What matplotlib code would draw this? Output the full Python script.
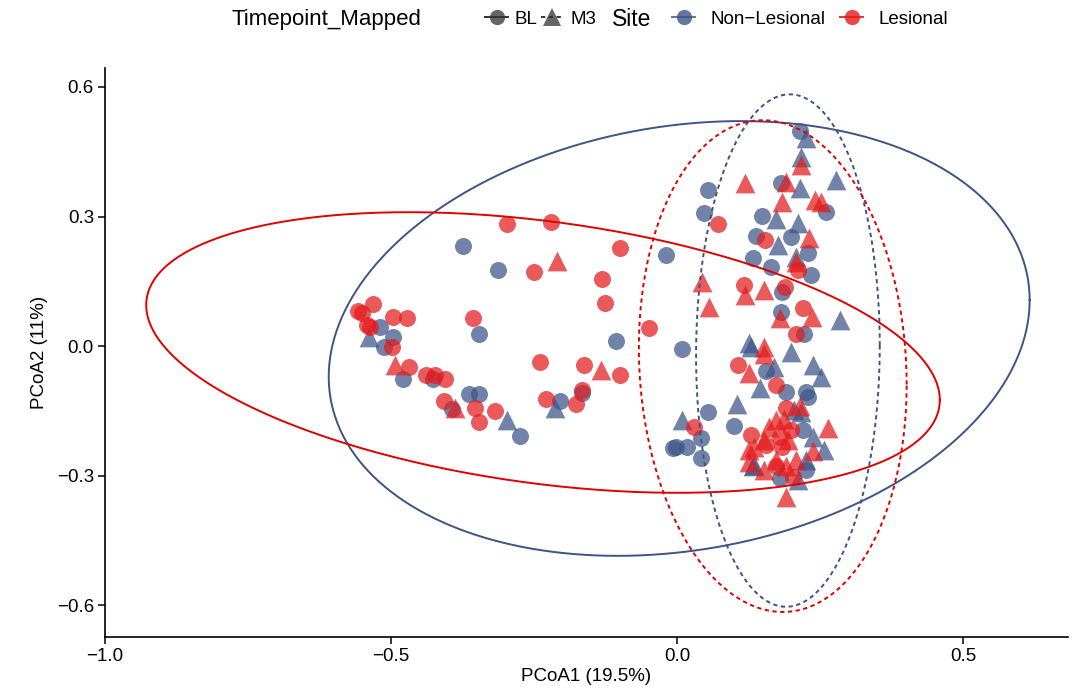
import numpy as np
import matplotlib
matplotlib.use("Agg")
import matplotlib.pyplot as plt
from matplotlib.lines import Line2D

plt.rcParams['font.family'] = ['Liberation Sans', 'DejaVu Sans']

# ---------------- data ----------------
# Non-Lesional, BL (circles)
nl_bl_x = [-0.374, -0.313, -0.347, -0.107, -0.480, -0.496, -0.513, -0.519, -0.426, -0.364, -0.346, -0.394,
           -0.275, -0.205, -0.166, 0.009, 0.053, 0.046, -0.019, 0.215, 0.182, 0.149, 0.138, 0.199, 0.132,
           0.164, 0.228, 0.234, 0.184, 0.260, 0.182, 0.222, 0.053, 0.041, 0.041, 0.018, -0.008, -0.002,
           0.099, 0.190, 0.225, 0.228, 0.155, 0.219, 0.179, 0.225]
nl_bl_y = [0.231, 0.176, 0.028, 0.012, -0.076, 0.022, -0.002, 0.043, -0.077, -0.111, -0.111, -0.146,
           -0.208, -0.127, -0.108, -0.007, 0.361, 0.307, 0.211, 0.498, 0.378, 0.301, 0.255, 0.253, 0.203,
           0.184, 0.216, 0.164, 0.126, 0.311, 0.079, 0.028, -0.152, -0.214, -0.260, -0.233, -0.237, -0.233,
           -0.185, -0.106, -0.106, -0.117, -0.057, -0.194, -0.306, -0.287]

# Non-Lesional, M3 (triangles)
nl_m3_x = [-0.297, -0.214, -0.539, 0.278, 0.217, 0.225, 0.214, 0.211, 0.173, 0.176, 0.208, 0.284, 0.126,
           0.129, 0.199, 0.237, 0.252, 0.170, 0.144, 0.104, 0.009, 0.205, 0.217, 0.237, 0.257, 0.132,
           0.211, 0.225, 0.135]
nl_m3_y = [-0.171, -0.144, 0.022, 0.384, 0.438, 0.481, 0.365, 0.284, 0.295, 0.234, 0.207, 0.060, 0.006,
           -0.002, -0.013, -0.044, -0.071, -0.049, -0.098, -0.134, -0.171, -0.148, -0.152, -0.210, -0.241,
           -0.279, -0.310, -0.264, -0.275]

# Lesional, BL (circles)
l_bl_x = [-0.297, -0.221, -0.100, -0.250, -0.131, -0.126, -0.050, -0.357, -0.239, -0.162, -0.100, -0.230,
          -0.176, -0.167, -0.319, -0.354, -0.346, -0.407, -0.439, -0.423, -0.405, -0.469, -0.472, -0.496,
          -0.532, -0.557, -0.551, -0.542, -0.536, -0.499, 0.072, 0.154, 0.212, 0.189, 0.117, 0.219, 0.208,
          0.107, 0.172, 0.190, 0.129, 0.155, 0.179, 0.184, 0.199, 0.173, 0.202, 0.030]
l_bl_y = [0.282, 0.288, 0.226, 0.171, 0.155, 0.099, 0.041, 0.064, -0.038, -0.044, -0.066, -0.123,
          -0.134, -0.103, -0.150, -0.144, -0.175, -0.127, -0.067, -0.067, -0.076, -0.049, 0.064, 0.068,
          0.097, 0.082, 0.077, 0.049, 0.045, -0.002, 0.282, 0.245, 0.176, 0.137, 0.141, 0.087, 0.029,
          -0.044, -0.090, -0.144, -0.206, -0.229, -0.210, -0.233, -0.194, -0.279, -0.303, -0.187]

# Lesional, M3 (triangles)
l_m3_x = [-0.210, -0.134, -0.388, -0.493, 0.119, 0.217, 0.190, 0.184, 0.240, 0.252, 0.230, 0.151, 0.119,
          0.044, 0.056, 0.179, 0.236, 0.208, 0.152, 0.152, 0.126, 0.263, 0.161, 0.173, 0.187, 0.126, 0.152,
          0.193, 0.208, 0.190, 0.152, 0.190, 0.214, 0.237, 0.173, 0.135, 0.126]
l_m3_y = [0.197, -0.056, -0.144, -0.044, 0.378, 0.419, 0.380, 0.334, 0.338, 0.334, 0.250, 0.130, 0.118,
          0.149, 0.091, 0.064, 0.068, 0.195, -0.002, -0.019, -0.063, -0.191, -0.187, -0.171, -0.168, -0.241,
          -0.218, -0.218, -0.264, -0.279, -0.287, -0.349, -0.140, -0.244, -0.264, -0.233, -0.268]

# ellipse summaries (centre, half extents, tilt) per group: NL-BL, L-BL, NL-M3, L-M3
ell_groups = ['NL_BL', 'L_BL', 'NL_M3', 'L_M3']
ell_cx = [0.0035, -0.2345, 0.1935, 0.167]
ell_cy = [0.0175, -0.015, -0.0105, -0.0465]
ell_hx = [0.6125, 0.6935, 0.1605, 0.234]
ell_hy = [0.5035, 0.325, 0.5935, 0.5695]
ell_sin = [0.176, -0.338, 0.02, -0.075]

x_ticks = [-1.0, -0.5, 0.0, 0.5]
y_ticks = [-0.6, -0.3, 0.0, 0.3, 0.6]

BLUE = '#3C5488'
RED = '#E41A1C'
RED_LINE = '#E00000'

# ---------------- figure ----------------
fig = plt.figure(figsize=(10.73, 6.98), dpi=100)
ax = fig.add_axes([105 / 1073, 1 - 637 / 698, (1068 - 105) / 1073, (637 - 68) / 698])

ms = 150
alpha = 0.72
ax.scatter(nl_bl_x, nl_bl_y, s=ms, marker='o', color=BLUE, alpha=alpha, linewidths=0, zorder=3)
ax.scatter(nl_m3_x, nl_m3_y, s=ms * 1.35, marker='^', color=BLUE, alpha=alpha, linewidths=0, zorder=3)
ax.scatter(l_bl_x, l_bl_y, s=ms, marker='o', color=RED, alpha=alpha, linewidths=0, zorder=3)
ax.scatter(l_m3_x, l_m3_y, s=ms * 1.35, marker='^', color=RED, alpha=alpha, linewidths=0, zorder=3)

t = np.linspace(0, 2 * np.pi, 400)
ell_color = [BLUE, RED_LINE, BLUE, RED_LINE]
ell_ls = ['-', '-', (0, (2.2, 1.8)), (0, (2.2, 1.8))]
for i in range(len(ell_groups)):
    phi = np.arcsin(ell_sin[i])
    ex = ell_cx[i] + ell_hx[i] * np.cos(t)
    ey = ell_cy[i] + ell_hy[i] * np.sin(t + phi)
    ax.plot(ex, ey, color=ell_color[i], lw=1.4, linestyle=ell_ls[i], zorder=4)

ax.set_xlim(-1.0, 0.683)
ax.set_ylim(-0.674, 0.644)
ax.set_xticks(x_ticks)
ax.set_yticks(y_ticks)
ax.set_xticklabels(['\u22121.0', '\u22120.5', '0.0', '0.5'])
ax.set_yticklabels(['\u22120.6', '\u22120.3', '0.0', '0.3', '0.6'])
for s in ['top', 'right']:
    ax.spines[s].set_visible(False)
for s in ['left', 'bottom']:
    ax.spines[s].set_linewidth(1.2)
    ax.spines[s].set_color('black')
ax.tick_params(axis='both', length=5, width=1.1, labelsize=13.5, colors='black', pad=3)
ax.set_xlabel('PCoA1 (19.5%)', fontsize=13.5, labelpad=2)
ax.set_ylabel('PCoA2 (11%)', fontsize=13.5, labelpad=6)

# ---------------- legend ----------------
ytop = 1 - 19 / 698
fig.text(232 / 1073, ytop, 'Timepoint_Mapped', fontsize=16, va='center', ha='left')
fig.text(612 / 1073, ytop, 'Site', fontsize=16.5, va='center', ha='left')

grey = '#333333'
h_bl = Line2D([0], [0], color=grey, marker='o', markersize=11, markerfacecolor=(0.2, 0.2, 0.2, 0.75),
              markeredgewidth=0, lw=1.4, linestyle='-')
h_m3 = Line2D([0], [0], color=grey, marker='^', markersize=13, markerfacecolor=(0.2, 0.2, 0.2, 0.75),
              markeredgewidth=0, lw=1.4, linestyle=(0, (2.2, 1.8)))
h_nl = Line2D([0], [0], color=BLUE, marker='o', markersize=11, markerfacecolor=BLUE, alpha=0.8,
              markeredgewidth=0, lw=1.4)
h_l = Line2D([0], [0], color=RED_LINE, marker='o', markersize=11, markerfacecolor=RED, alpha=0.8,
             markeredgewidth=0, lw=1.4)

fs = 13.5
leg1 = fig.legend([h_bl, h_m3], ['BL', 'M3'], loc='center left', bbox_to_anchor=(485 / 1073, ytop),
                  ncol=2, frameon=False, fontsize=fs, handlelength=1.23, handletextpad=0.37,
                  columnspacing=0.16, borderpad=0, borderaxespad=0)
leg2 = fig.legend([h_nl, h_l], ['Non\u2212Lesional', 'Lesional'], loc='center left',
                  bbox_to_anchor=(672 / 1073, ytop), ncol=2, frameon=False, fontsize=fs,
                  handlelength=1.23, handletextpad=0.8, columnspacing=0.8, borderpad=0, borderaxespad=0)

fig.savefig('out.png', dpi=100)
